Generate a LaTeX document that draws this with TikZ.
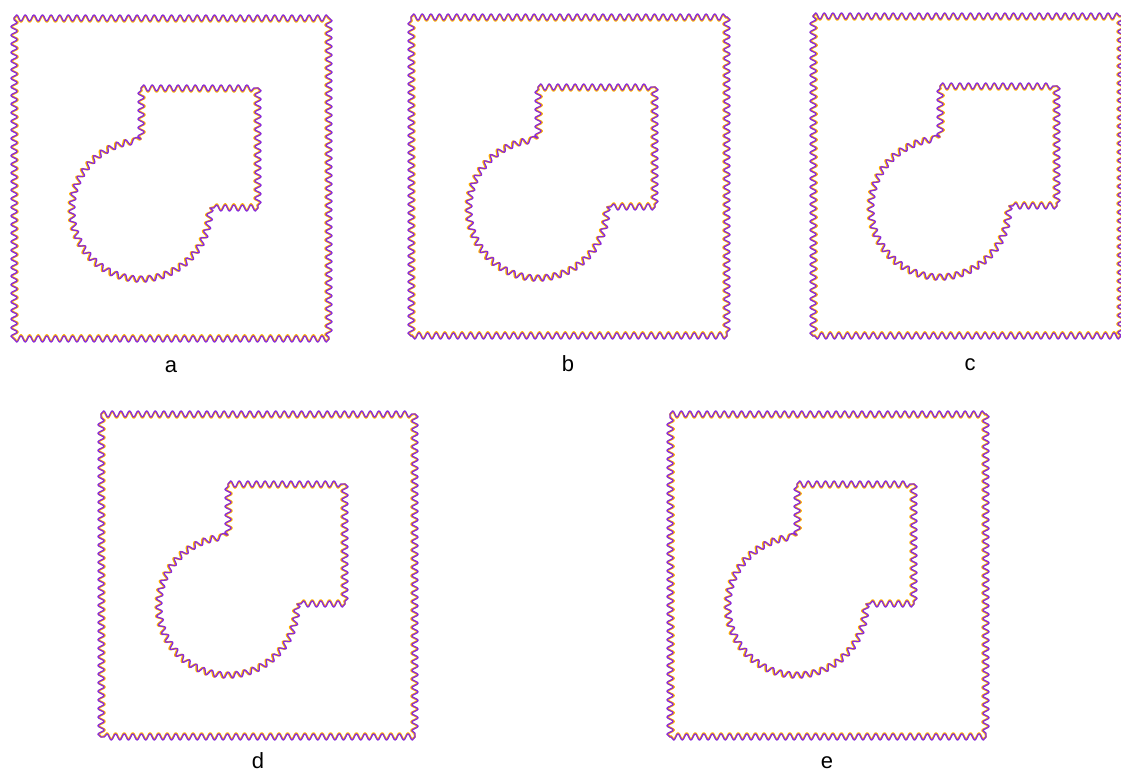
\documentclass[tikz,border=0pt]{standalone}
\usepackage{fontspec}
\setmainfont{Liberation Sans}
\usetikzlibrary{decorations.pathmorphing}
\definecolor{wpurple}{HTML}{8A2BD8}
\definecolor{worange}{HTML}{FFB400}
\tikzset{
  wavy/.style={decoration={snake,segment length=8.6pt,amplitude=3.1pt,raise=#1},line join=round,line cap=round},
  worangeline/.style={wavy=-1pt,draw=worange,line width=1.7pt},
  wpurpleline/.style={wavy=0pt,draw=wpurple,line width=1.3pt},
  plabel/.style={font=\fontsize{22}{24}\selectfont,anchor=base,inner sep=0pt}
}
\newcommand{\wavepanel}[6]{%
  \begin{scope}[shift={(#1,775-#2)}]
    \foreach \st in {worangeline,wpurpleline}{
      \draw[\st] (0,0) decorate{-- (#3,0)} decorate{-- (#3,-#4)}
        decorate{-- (0,-#4)} decorate{-- (0,0)};
      \draw[\st] (127,-70) decorate{-- (244,-70)} decorate{-- (244,-190)}
        decorate{-- (196,-190)}
        decorate{arc[start angle=0,end angle=-270,radius=69]}
        decorate{-- (127,-70)};
    }
    \node[plabel] (#6) at (157,-355) {#5};
  \end{scope}}
\begin{document}
\begin{tikzpicture}[x=1pt,y=1pt]
  \useasboundingbox (0,0) rectangle (1121,775);
  \clip (0,0) rectangle (1121,775);
  \fill[white] (0,0) rectangle (1121,775);
  \wavepanel{14}{18}{315}{321}{a}{la}
  \wavepanel{411}{17}{316}{319}{b}{lb}
  \wavepanel{813}{16}{308}{320}{c}{lc}
  \wavepanel{101}{414}{314}{323}{d}{ld}
  \wavepanel{670}{414}{316}{323}{e}{le}
\end{tikzpicture}
\end{document}
